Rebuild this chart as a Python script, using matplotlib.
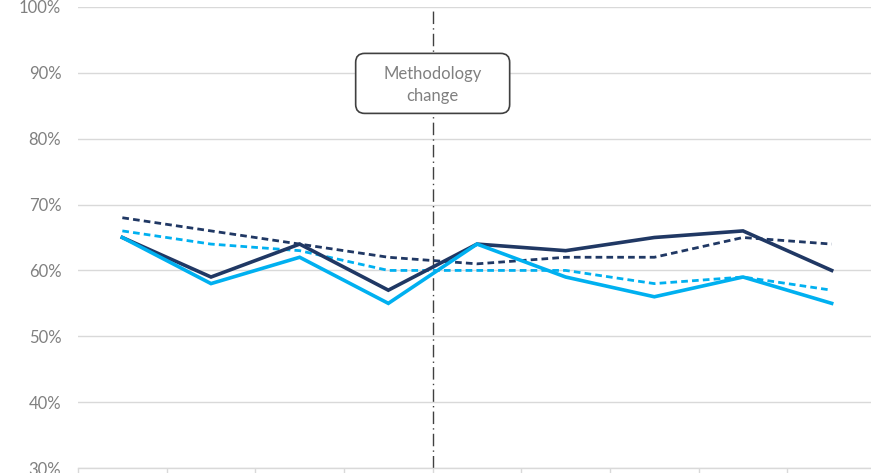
import matplotlib
matplotlib.use("Agg")
import matplotlib.pyplot as plt
from matplotlib.patches import FancyBboxPatch
from matplotlib.transforms import IdentityTransform
from matplotlib.ticker import FixedLocator, PercentFormatter

periods = list(range(9))
dark_solid = [65, 59, 64, 57, 64, 63, 65, 66, 60]
light_solid = [65, 58, 62, 55, 64, 59, 56, 59, 55]
dark_dashed = [68, 66, 64, 62, 61, 62, 62, 65, 64]
light_dashed = [66, 64, 63, 60, 60, 60, 58, 59, 57]
y_ticks = [30, 40, 50, 60, 70, 80, 90, 100]
annotation_text = "Methodology\nchange"

DARK = "#203864"
LIGHT = "#00B0F0"
GRID = "#D9D9D9"
TEXT = "#808080"

plt.rcParams['font.family'] = ['Lato', 'DejaVu Sans']

fig = plt.figure(figsize=(8.71, 4.73), dpi=100)
ax = fig.add_axes([78/871, 5/473, (876-78)/871, (468-7)/473])

ax.set_xlim(-0.5, 8.5)
ax.set_ylim(30, 100)

ax.plot(periods, dark_dashed, color=DARK, lw=2.0, ls=(0, (2.4, 1.5)), zorder=3)
ax.plot(periods, light_dashed, color=LIGHT, lw=2.0, ls=(0, (2.4, 1.5)), zorder=3)
ax.plot(periods, dark_solid, color=DARK, lw=2.6, zorder=4, solid_joinstyle='miter')
ax.plot(periods, light_solid, color=LIGHT, lw=2.6, zorder=5, solid_joinstyle='miter')

ax.axvline(3.5, color="#404040", lw=1.0, ls=(0, (9, 3, 1, 3)), zorder=2)

ax.set_yticks(y_ticks)
ax.yaxis.set_major_formatter(PercentFormatter(decimals=0))
ax.grid(axis='y', color=GRID, lw=1.0, zorder=0)
ax.tick_params(axis='y', length=0, pad=12, labelsize=12, labelcolor=TEXT)

ax.xaxis.set_major_locator(FixedLocator([i - 0.5 for i in range(10)]))
ax.set_xticklabels([])
ax.tick_params(axis='x', length=5, width=1.0, color=GRID, direction='out')

for s in ['top', 'right', 'left']:
    ax.spines[s].set_visible(False)
ax.spines['bottom'].set_color(GRID)
ax.spines['bottom'].set_linewidth(1.0)

# annotation box
fig.canvas.draw()
cx, cy = ax.transData.transform((3.5, 88.4))
w, h = 154, 60
box = FancyBboxPatch((cx - w/2, cy - h/2), w, h,
                     boxstyle="round,pad=0,rounding_size=9",
                     transform=IdentityTransform(), facecolor="white",
                     edgecolor="#404040", lw=1.2, zorder=6, clip_on=False)
ax.add_patch(box)
ax.text(3.5, 88.1, annotation_text, ha='center', va='center', color=TEXT,
        fontsize=12, linespacing=1.45, zorder=7)

fig.savefig("out.png", dpi=100)
